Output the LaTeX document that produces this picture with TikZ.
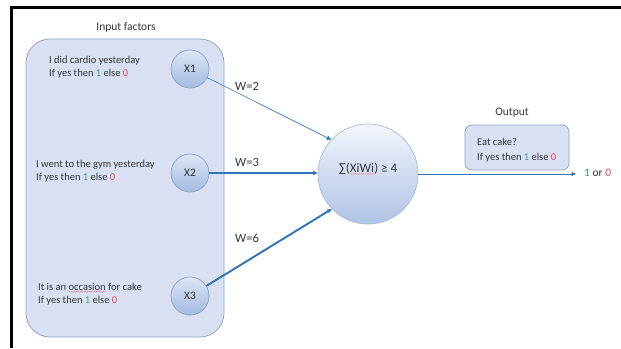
\documentclass[tikz,border=0pt]{standalone}
\usepackage{fontspec}
\setmainfont{Carlito}
\usetikzlibrary{arrows.meta,decorations.pathmorphing}
\definecolor{txt}{HTML}{363636}
\definecolor{one}{HTML}{3E9E86}
\definecolor{zero}{HTML}{E2475B}
\definecolor{arr}{HTML}{2E75B6}
\definecolor{boxfill}{HTML}{D8E0F1}
\definecolor{boxdraw}{HTML}{8C9FC4}
\definecolor{xtop}{HTML}{DCE5F4}
\definecolor{xbot}{HTML}{A3BAE2}
\definecolor{sumtop}{HTML}{F2F5FB}
\definecolor{sumbot}{HTML}{AFC3E5}
\newcommand{\ifyes}{If yes then {\color{one}1} else {\color{zero}0}}
\newcommand{\spellmark}[1]{\tikz[baseline=(sw.base)]{\node[inner sep=0pt,outer sep=0pt](sw){#1};\draw[zero!80,line width=0.3pt,decorate,decoration={snake,amplitude=0.35pt,segment length=1.8pt}]([yshift=-1.3pt]sw.south west)--([yshift=-1.3pt]sw.south east);}}
\tikzset{
  small/.style={font=\fontsize{10.5}{12.8}\selectfont,text=txt,align=left,inner sep=0pt},
  title/.style={font=\fontsize{11.5}{13}\selectfont,text=txt,inner sep=0pt},
  wlab/.style={font=\fontsize{12.5}{14}\selectfont,text=txt,inner sep=0pt},
  xnode/.style={circle,minimum size=38pt,inner sep=0pt,draw=boxdraw,line width=0.7pt,top color=xtop,bottom color=xbot,font=\fontsize{11.5}{13}\selectfont,text=txt},
  link/.style={draw=arr,-{Triangle[length=4.5pt,width=4pt]}},
}
\begin{document}
\begin{tikzpicture}[x=1pt,y=-1pt]
\useasboundingbox (0,0) rectangle (621,348);
\fill[white] (0,0) rectangle (621,348);
% frame
\draw[black,line width=2.6pt] (10.2,7.5) -- (621,7.5);
\draw[black,line width=2.6pt] (11.5,6.2) -- (11.5,348);
% input box
\node[title] (intitle) at (126,27) {Input factors};
\draw[fill=boxfill,draw=boxdraw,line width=0.7pt,rounded corners=24pt] (26,39) rectangle (224,337);
% input nodes
\node[xnode] (X1) at (190,69) {X1};
\node[xnode] (X2) at (190,173) {X2};
\node[xnode] (X3) at (190,296) {X3};
\node[small,anchor=west] (t1) at (49,67) {I did cardio yesterday\\\ifyes};
\node[small,anchor=west] (t2) at (36,171) {I went to the gym yesterday\\\ifyes};
\node[small,anchor=west] (t3) at (38,294) {It is an \spellmark{occasion} for cake\\\ifyes};
% sum node
\node[circle,minimum size=100pt,inner sep=0pt,draw=boxdraw!80,line width=0.6pt,top color=sumtop,bottom color=sumbot] (S) at (368,174) {};
\node[wlab,font=\fontsize{13}{15}\selectfont] (sumtxt) at (368,169) {∑(\spellmark{XiWi}) ≥ 4};
% links
\draw[link,line width=0.6pt] (X1) -- (S.137);
\draw[link,line width=1.3pt] (X2) -- (S.west |- X2);
\draw[link,line width=1.9pt] (X3) -- (S.224);
\node[wlab] (w1) at (247,86) {W=2};
\node[wlab] (w2) at (247,162) {W=3};
\node[wlab] (w3) at (247,238) {W=6};
% output
\node[title] (outtitle) at (512,113) {Output};
\node[draw=boxdraw,fill=boxfill,line width=0.7pt,rounded corners=7pt,minimum width=104pt,minimum height=45pt,inner sep=0pt] (obox) at (517,147.5) {};
\node[small,anchor=west,font=\fontsize{10.5}{14.5}\selectfont] (otext) at (477,150) {Eat cake?\\\ifyes};
\coordinate (oend) at (576,174);
\draw[link,line width=0.6pt] (S.east) -- (oend);
\node[title,anchor=west] (res) at (584,173) {{\color{one}1} or {\color{zero}0}};
\end{tikzpicture}
\end{document}
